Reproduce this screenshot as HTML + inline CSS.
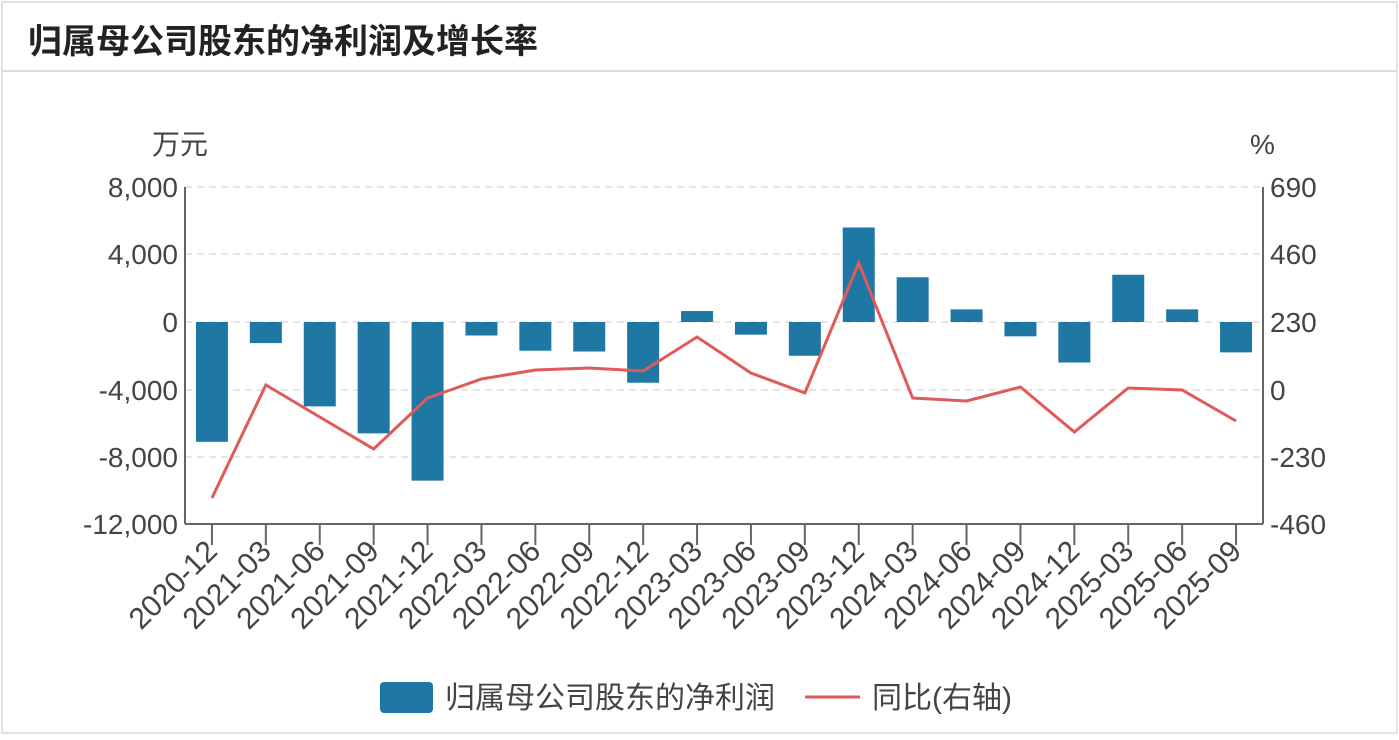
<!DOCTYPE html>
<html><head><meta charset="utf-8"><style>
body{margin:0;background:#fff;width:1399px;height:735px;overflow:hidden;font-family:"Liberation Sans","Noto Sans CJK SC",sans-serif}
</style></head><body>
<svg width="1399" height="735" xmlns="http://www.w3.org/2000/svg" font-family="Liberation Sans, Noto Sans CJK SC, sans-serif">
<rect x="0" y="0" width="1399" height="735" fill="#fff"/>
<rect x="2" y="2" width="1395" height="731" fill="none" stroke="#e2e2e2" stroke-width="2"/>
<line x1="2" y1="71" x2="1397" y2="71" stroke="#dcdcdc" stroke-width="2"/>
<text x="28" y="53" font-size="34" font-weight="bold" fill="#222">归属母公司股东的净利润及增长率</text>
<text x="152" y="154" font-size="28" fill="#444">万元</text>
<text x="1250" y="154" font-size="28" fill="#444">%</text>
<g stroke="#ddd" stroke-width="1.5" stroke-dasharray="7,5">
<line x1="185" y1="187" x2="1263" y2="187"/><line x1="185" y1="254" x2="1263" y2="254"/>
<line x1="185" y1="322" x2="1263" y2="322"/><line x1="185" y1="390" x2="1263" y2="390"/>
<line x1="185" y1="457" x2="1263" y2="457"/>
</g>
<g stroke="#666" stroke-width="2">
<line x1="185" y1="187" x2="185" y2="524"/><line x1="1263" y1="187" x2="1263" y2="524"/>
<line x1="185" y1="524" x2="1263" y2="524"/>
</g>
<g font-size="28" fill="#444" text-anchor="end">
<text x="178" y="197">8,000</text><text x="178" y="264">4,000</text><text x="178" y="332">0</text>
<text x="178" y="400">-4,000</text><text x="178" y="467">-8,000</text><text x="178" y="534">-12,000</text>
</g>
<g font-size="28" fill="#444">
<text x="1270" y="197">690</text><text x="1270" y="264">460</text><text x="1270" y="332">230</text>
<text x="1270" y="400">0</text><text x="1270" y="467">-230</text><text x="1270" y="534">-460</text>
</g>
<g id="bars" fill="#1f77a4"></g>
<polyline id="ln" fill="none" stroke="#e05a5a" stroke-width="3"/>
<g id="lab" font-size="30" fill="#444" text-anchor="end"></g>
<rect x="380" y="682" width="53" height="31" rx="4" fill="#1f77a4"/>
<text x="445" y="708" font-size="30" fill="#444">归属母公司股东的净利润</text>
<line x1="805" y1="697" x2="860" y2="697" stroke="#e05a5a" stroke-width="3"/>
<text x="872" y="708" font-size="30" fill="#444">同比(右轴)</text>
<script>
var v=[-7100,-1250,-5000,-6600,-9400,-800,-1700,-1750,-3600,650,-750,-2000,5600,2650,750,-850,-2400,2800,750,-1800];
var ly=[498,385,417,449,398,379,370,368,371,337,373,393,263,398,401,387,432,388,390,421];
var c=["2020-12","2021-03","2021-06","2021-09","2021-12","2022-03","2022-06","2022-09","2022-12","2023-03","2023-06","2023-09","2023-12","2024-03","2024-06","2024-09","2024-12","2025-03","2025-06","2025-09"];
var b=document.getElementById('bars'),l=document.getElementById('lab'),pts=[],ns="http://www.w3.org/2000/svg";
for(var i=0;i<20;i++){var x=185+53.9*(i+0.5);var y=322-v[i]*0.016875;
var r=document.createElementNS(ns,'rect');r.setAttribute('x',x-16);r.setAttribute('width',32);r.setAttribute('y',Math.min(y,322));r.setAttribute('height',Math.abs(y-322));b.appendChild(r);
pts.push(x+','+ly[i]);
var t=document.createElementNS(ns,'text');t.setAttribute('transform','translate('+(x+7)+',553) rotate(-45)');t.textContent=c[i];l.appendChild(t);
var tk=document.createElementNS(ns,'line');tk.setAttribute('x1',x);tk.setAttribute('x2',x);tk.setAttribute('y1',524);tk.setAttribute('y2',545);tk.setAttribute('stroke','#666');tk.setAttribute('stroke-width',2);l.appendChild(tk);}
document.getElementById('ln').setAttribute('points',pts.join(' '));
</script>
</svg>
</body></html>
